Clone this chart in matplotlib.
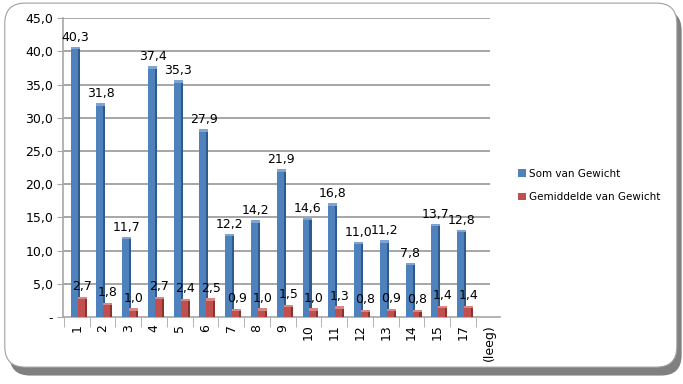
import numpy as np
import matplotlib.pyplot as plt
from matplotlib.patches import FancyBboxPatch, Patch
from matplotlib.ticker import FuncFormatter

categories = ['1', '2', '3', '4', '5', '6', '7', '8', '9', '10',
              '11', '12', '13', '14', '15', '17', '(leeg)']
som = [40.3, 31.8, 11.7, 37.4, 35.3, 27.9, 12.2, 14.2, 21.9, 14.6,
       16.8, 11.0, 11.2, 7.8, 13.7, 12.8, np.nan]
gem = [2.7, 1.8, 1.0, 2.7, 2.4, 2.5, 0.9, 1.0, 1.5, 1.0,
       1.3, 0.8, 0.9, 0.8, 1.4, 1.4, np.nan]

BLUE, BLUE_D, BLUE_L = '#4F81BD', '#2F5A8E', '#7FA4D3'
RED, RED_D, RED_L = '#C0504D', '#8A3230', '#D98683'
GRID = '#a6a6a6'


def fmt(v):
    return f"{v:.1f}".replace('.', ',')


fig = plt.figure(figsize=(6.83, 3.84), dpi=100)

# rounded frame with shadow
shadow = FancyBboxPatch((0.014, 0.022), 0.984, 0.952, boxstyle="round,pad=0,rounding_size=0.03",
                        transform=fig.transFigure, facecolor='#808080', edgecolor='none',
                        zorder=-2, mutation_aspect=683 / 384)
frame = FancyBboxPatch((0.007, 0.044), 0.984, 0.948, boxstyle="round,pad=0,rounding_size=0.03",
                       transform=fig.transFigure, facecolor='white', edgecolor='#a0a0a0',
                       linewidth=0.8, zorder=-1, mutation_aspect=683 / 384)
fig.patches.extend([shadow, frame])

ax = fig.add_axes([0.092, 0.174, 0.640, 0.779])
ax.patch.set_alpha(0)

x = np.arange(len(categories))
w = 0.27
side = 0.08
off_b, off_r = -0.10, 0.17

som_a = np.array(som)
gem_a = np.array(gem)

# bars: front face + darker side strip + light top cap
for vals, off, c, cd, cl in [(som_a, off_b, BLUE, BLUE_D, BLUE_L),
                             (gem_a, off_r, RED, RED_D, RED_L)]:
    ok = ~np.isnan(vals)
    ax.bar(x[ok] + off, vals[ok], width=w, color=c, zorder=3)
    ax.bar(x[ok] + off + w / 2 + side / 2, vals[ok], width=side, color=cd, zorder=3)
    ax.bar(x[ok] + off + side / 2, 0.35, bottom=vals[ok], width=w + side,
           color=cl, zorder=3)

for xi, v in zip(x, som_a):
    if not np.isnan(v):
        ax.text(xi + off_b + 0.04, v + 0.8, fmt(v), ha='center', va='bottom',
                fontsize=9, color='black', zorder=5)
for xi, v in zip(x, gem_a):
    if not np.isnan(v):
        ax.text(xi + off_r + 0.04, v + 0.9, fmt(v), ha='center', va='bottom',
                fontsize=9, color='black', zorder=5)

ax.set_ylim(0, 45)
ax.set_xlim(-0.54, 16.43)
ax.set_yticks(np.arange(0, 46, 5))
ax.yaxis.set_major_formatter(FuncFormatter(lambda v, p: '-' if v == 0 else fmt(v)))
# back wall gridlines stop short of the floor's right edge
for yv in np.arange(5, 46, 5):
    ax.axhline(yv, xmin=0, xmax=0.975, color=GRID, linewidth=1.4, zorder=0)

ax.set_xticks(x)
ax.set_xticklabels(categories, rotation=90, fontsize=9, va='top')
ax.set_xticks(np.arange(-0.5, 16.5, 1), minor=True)
ax.tick_params(axis='x', which='major', length=0, pad=5)
ax.tick_params(axis='x', which='minor', length=7, color=GRID)
ax.tick_params(axis='y', length=4, color=GRID, labelsize=9, pad=3)

for s in ['top', 'right']:
    ax.spines[s].set_visible(False)
ax.spines['left'].set_color(GRID)
ax.spines['bottom'].set_color(GRID)
ax.spines['left'].set_linewidth(1.2)
ax.spines['bottom'].set_linewidth(1.2)

handles = [Patch(facecolor=BLUE, edgecolor='none', label='Som van Gewicht'),
           Patch(facecolor=RED, edgecolor='none', label='Gemiddelde van Gewicht')]
fig.legend(handles=handles, loc='upper left', bbox_to_anchor=(0.745, 0.585),
           frameon=False, fontsize=7.5, handlelength=0.7, handleheight=0.7,
           handletextpad=0.3, labelspacing=1.3)

fig.savefig('out.png', dpi=100)
